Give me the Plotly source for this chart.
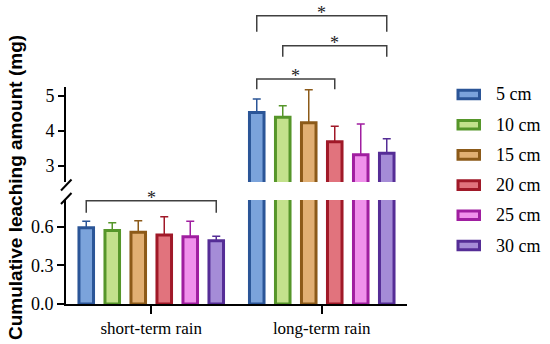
import plotly.graph_objects as go

# ---------------- data ----------------
categories = ["short-term rain", "long-term rain"]
depths = ["5 cm", "10 cm", "15 cm", "20 cm", "25 cm", "30 cm"]
short_means = [0.59, 0.57, 0.555, 0.535, 0.52, 0.49]
short_err = [0.05, 0.06, 0.09, 0.14, 0.12, 0.035]
long_means = [4.52, 4.38, 4.23, 3.69, 3.32, 3.36]
long_err = [0.38, 0.33, 0.93, 0.44, 0.87, 0.41]
low_ticks = [0.0, 0.3, 0.6]
low_ticktext = ["0.0", "0.3", "0.6"]
high_ticks = [3, 4, 5]
high_ticktext = ["3", "4", "5"]

fill_colors = ["#7BA3DB", "#C3E18C", "#E1AF73", "#E1737D", "#F091EB", "#A58CD7"]
edge_colors = ["#2B5597", "#56962A", "#8C5A19", "#A01928", "#A01EA0", "#552D96"]

# significance brackets: (category index, from depth idx, to depth idx, line level, leg level)
brackets_high = [(1, 0, 5, 7.26, 6.81), (1, 1, 5, 6.41, 6.10), (1, 0, 3, 5.47, 5.18)]

# ---------------- geometry helpers ----------------
W_FIG, H_FIG = 550, 344
L, R, T, B = 66, 407, 0, 304
PW, PH = R - L, B - T


def px_x(p):
    return (p - L) / PW


def px_y(p):
    return (B - p) / PH


BARGAP = 0.085
SLOT = (1 - BARGAP) / 6


def bar_x(ci, j):
    return ci + (j - 2.5) * SLOT


# axis mapping (top segment: 5 at 95.5px, 3 at 166px)
u2 = (166 - 95.5) / 2.0
y2_top = 5 + (95.5 - 0) / u2
y2_bot = 3 - (182 - 166) / u2
u1 = (304 - 226.5) / 0.6
y1_top = (304 - 200) / u1

serif = "Liberation Serif"

fig = go.Figure()
for i, d in enumerate(depths):
    vals = [short_means[i], long_means[i]]
    errs = [short_err[i], long_err[i]]
    for yax in ["y", "y2"]:
        fig.add_trace(go.Bar(
            x=categories, y=vals, name=d, yaxis=yax, xaxis="x",
            marker=dict(color=fill_colors[i], line=dict(color=edge_colors[i], width=3)),
            error_y=dict(type="data", array=errs, arrayminus=[0, 0], symmetric=False,
                         color=edge_colors[i], thickness=1.5, width=4),
            showlegend=False,
        ))

shapes = []
annotations = []

# top-segment axis line
shapes.append(dict(type="line", xref="paper", yref="y2", x0=px_x(65), x1=px_x(65),
                   y0=y2_bot, y1=5 + (95.5 - 87) / u2, line=dict(color="black", width=2)))
# axis break marks
for (xa, ya, xb, yb) in [(61, 190.5, 71.5, 179.5), (61, 204, 71.5, 193)]:
    shapes.append(dict(type="line", xref="paper", yref="paper", x0=px_x(xa), y0=px_y(ya),
                       x1=px_x(xb), y1=px_y(yb), line=dict(color="black", width=2)))

# brackets on top segment
for ci, a, b, lvl, leg in brackets_high:
    xa, xb = bar_x(ci, a), bar_x(ci, b)
    shapes.append(dict(type="path", xref="x", yref="y2",
                       path=f"M {xa},{leg} L {xa},{lvl} L {xb},{lvl} L {xb},{leg}",
                       line=dict(color="#404040", width=1.5)))
    annotations.append(dict(x=(xa + xb) / 2, y=lvl, xref="x", yref="y2", text="*",
                            showarrow=False, yanchor="bottom", yshift=-9,
                            font=dict(family=serif, size=18, color="#222")))

# bracket on bottom segment (above axis range -> paper coords)
xa, xb = bar_x(0, 0), bar_x(0, 5)
shapes.append(dict(type="path", xref="x", yref="paper",
                   path=f"M {xa},{px_y(212.7)} L {xa},{px_y(200.7)} L {xb},{px_y(200.7)} L {xb},{px_y(212.7)}",
                   line=dict(color="#404040", width=1.5)))
annotations.append(dict(x=(xa + xb) / 2, y=px_y(200.7), xref="x", yref="paper", text="*",
                        showarrow=False, yanchor="bottom", yshift=-9,
                        font=dict(family=serif, size=18, color="#222")))

# custom legend
for i, d in enumerate(depths):
    cy = 94.5 + 30.2 * i
    shapes.append(dict(type="rect", xref="paper", yref="paper",
                       x0=px_x(458), x1=px_x(479.5), y0=px_y(cy - 4.3), y1=px_y(cy + 4.3),
                       fillcolor=fill_colors[i], line=dict(color=edge_colors[i], width=3)))
    annotations.append(dict(x=px_x(494), y=px_y(cy), xref="paper", yref="paper", text=d,
                            showarrow=False, xanchor="left", yanchor="middle",
                            font=dict(family=serif, size=18, color="black")))

# y-axis title
annotations.append(dict(x=px_x(15), y=px_y(188), xref="paper", yref="paper",
                        text="Cumulative leaching amount (mg)", textangle=-90, showarrow=False,
                        xanchor="center", yanchor="middle",
                        font=dict(family="Liberation Sans", size=19, color="black", weight="bold")))

fig.update_layout(
    width=W_FIG, height=H_FIG,
    margin=dict(l=L, r=W_FIG - R, t=T, b=H_FIG - B, pad=0),
    paper_bgcolor="white", plot_bgcolor="white",
    barmode="group", bargap=BARGAP, bargroupgap=0.44,
    showlegend=False,
    xaxis=dict(type="category", categoryorder="array", categoryarray=categories,
               range=[-0.5, 1.5], showline=True, linecolor="black", linewidth=2,
               ticks="outside", ticklen=8, tickwidth=2, tickcolor="black",
               tickfont=dict(family=serif, size=17, color="black"),
               showgrid=False, zeroline=False, anchor="y"),
    yaxis=dict(domain=[0, px_y(200)], range=[0, y1_top], showline=True, linecolor="black",
               linewidth=2, ticks="outside", ticklen=7, tickwidth=2, tickcolor="black",
               tickvals=low_ticks, ticktext=low_ticktext,
               tickfont=dict(family=serif, size=18, color="black"),
               showgrid=False, zeroline=False, anchor="x"),
    yaxis2=dict(domain=[px_y(182), 1], range=[y2_bot, y2_top], showline=False,
                ticks="outside", ticklen=7, tickwidth=2, tickcolor="black",
                tickvals=high_ticks, ticktext=high_ticktext,
                tickfont=dict(family=serif, size=18, color="black"),
                showgrid=False, zeroline=False, anchor="x"),
    shapes=shapes, annotations=annotations,
)

fig.write_html("out.html", config={"displayModeBar": False},
               post_script="document.body.style.margin='0';")
